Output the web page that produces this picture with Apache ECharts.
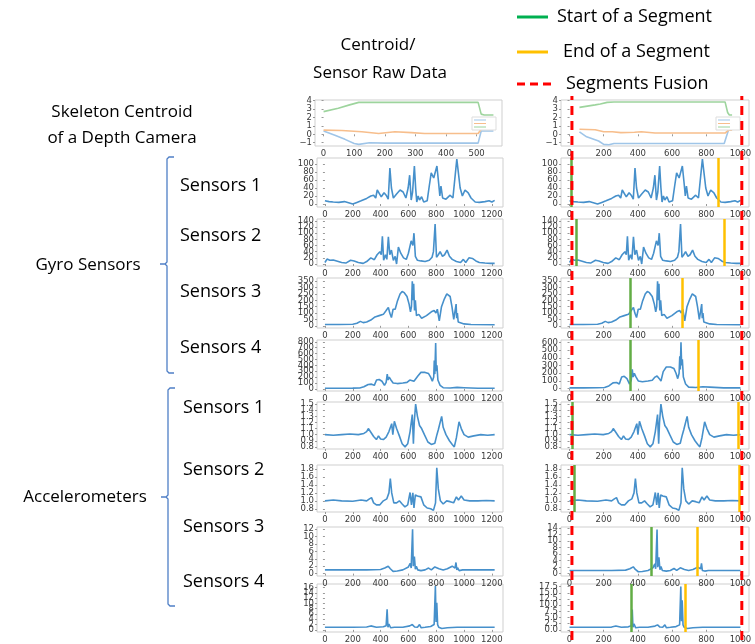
<!DOCTYPE html>
<html><head><meta charset="utf-8">
<script src="https://cdn.jsdelivr.net/npm/echarts@6/dist/echarts.min.js"></script>
<style>html,body{margin:0;padding:0;background:#fff}#c{width:755px;height:644px}</style>
</head><body><div id="c"></div>
<script>
// ================= DATA =================
// Skeleton centroid (left panel, frame index 0..555)
const centroidLeftBlue   = [[0,0.4],[37,-0.1],[70,-0.6],[100,-1.1],[115,-1.2],[150,-1.0],[200,-1.05],[300,-1.05],[400,-1.05],[505,-1.05],[515,0.4],[555,0.4]];
const centroidLeftOrange = [[0,0.5],[60,0.45],[125,0.3],[180,0.1],[233,0.3],[287,0.2],[330,0.1],[400,0.1],[505,0.1],[515,0.6],[555,0.6]];
const centroidLeftGreen  = [[0,2.7],[48,3.1],[85,3.5],[115,3.8],[200,3.8],[300,3.8],[400,3.8],[505,3.8],[515,2.4],[525,2.3],[555,2.3]];
// Skeleton centroid (right panel, resampled 0..1000)
const centroidRightBlue   = [[58,0.3],[100,-0.3],[170,-0.8],[200,-1.2],[230,-1.25],[260,-1.1],[500,-1.1],[905,-1.1],[930,0.5],[951,0.5]];
const centroidRightOrange = [[58,0.6],[150,0.55],[200,0.3],[210,0.5],[250,0.3],[300,0.2],[380,0.25],[420,0.3],[500,0.15],[910,0.15],[930,0.5],[951,0.5]];
const centroidRightGreen  = [[58,3.2],[150,3.5],[180,3.6],[220,3.8],[260,3.85],[600,3.85],[910,3.85],[925,2.6],[935,2.3],[951,2.3]];

// Gyro sensors (raw, frame index 0..1220)
const gyro1 = [[0,8],[30,6],[60,5],[100,4],[140,6],[170,3],[200,0],[230,4],[260,8],[300,14],[330,20],[350,22],[365,15],[376,35],[390,30],[405,18],[425,28],[440,22],[455,12],[467,90],[478,40],[492,15],[515,25],[540,35],[562,30],[582,15],[598,40],[609,72],[620,10],[630,30],[643,95],[652,40],[660,5],[670,20],[680,10],[695,18],[710,5],[735,8],[750,45],[764,78],[782,65],[793,62],[805,95],[818,50],[826,20],[834,45],[846,15],[870,12],[900,22],[920,15],[948,112],[972,40],[988,20],[1007,35],[1030,28],[1050,15],[1080,5],[1110,4],[1150,6],[1180,8],[1200,5],[1220,9]];
const gyro2 = [[0,5],[15,16],[35,12],[60,13],[90,9],[120,5],[150,3],[185,12],[210,10],[240,5],[275,2],[300,8],[330,20],[355,14],[375,30],[395,40],[405,30],[413,90],[422,12],[435,30],[445,15],[456,88],[466,30],[478,45],[492,12],[505,25],[515,0],[528,55],[545,35],[565,20],[585,15],[600,35],[620,75],[632,60],[640,100],[650,25],[665,12],[690,10],[720,8],[750,12],[770,22],[780,40],[792,130],[802,22],[815,30],[828,40],[845,25],[860,30],[878,45],[895,25],[915,15],[945,8],[975,5],[995,15],[1012,5],[1035,20],[1060,18],[1085,10],[1110,5],[1150,3],[1190,2],[1220,2]];
const gyro3 = [[0,10],[100,10],[200,12],[230,20],[255,35],[275,25],[300,30],[330,45],[360,70],[390,80],[420,90],[440,120],[456,145],[466,100],[478,65],[490,130],[505,130],[520,190],[540,250],[555,270],[570,260],[590,230],[605,170],[615,110],[622,150],[628,350],[634,200],[638,330],[644,120],[650,200],[658,80],[675,90],[695,60],[730,80],[765,110],[785,120],[798,100],[808,130],[822,38],[838,150],[858,210],[876,250],[887,265],[900,230],[913,150],[926,50],[943,170],[947,60],[952,100],[958,30],[972,40],[1000,15],[1050,10],[1220,8]];
const gyro4 = [[0,10],[100,10],[200,12],[250,15],[280,35],[311,75],[335,80],[355,60],[371,150],[390,160],[410,130],[428,60],[440,110],[448,250],[454,150],[462,200],[472,160],[490,100],[520,90],[560,100],[590,110],[610,150],[624,165],[640,130],[652,100],[668,220],[690,280],[700,300],[720,280],[745,260],[760,200],[772,130],[782,200],[786,480],[790,250],[796,780],[800,300],[805,400],[812,150],[828,60],[850,20],[900,15],[950,25],[1000,20],[1100,10],[1220,10]];
// Gyro sensor 4, right panel (resampled, spike lowered)
const gyro4Right = [[0,10],[82,10],[164,12],[205,15],[230,35],[254,75],[275,80],[291,60],[305,150],[320,160],[336,130],[351,60],[361,110],[367,250],[372,150],[379,200],[387,160],[402,100],[426,90],[459,100],[484,110],[500,150],[512,165],[525,130],[535,100],[548,220],[566,280],[574,300],[590,280],[611,260],[623,200],[633,130],[641,200],[645,420],[648,250],[652,600],[656,300],[660,380],[666,150],[679,60],[697,20],[738,15],[779,25],[820,20],[902,10],[1000,10]];

// Accelerometers (raw, frame index 0..1220)
const accel1 = [[0,1.0],[60,0.99],[120,1.0],[180,1.01],[240,1.0],[280,1.02],[300,1.05],[312,1.1],[330,1.04],[350,0.97],[370,0.92],[385,0.98],[400,0.93],[420,0.92],[440,0.96],[460,1.05],[472,1.08],[480,1.18],[488,1.0],[499,1.22],[515,1.1],[535,0.98],[555,0.85],[576,0.8],[595,0.85],[612,1.05],[628,1.33],[636,0.85],[642,1.2],[652,1.5],[665,1.3],[680,1.15],[695,1.1],[715,1.0],[740,0.88],[765,0.84],[790,0.86],[805,1.0],[815,1.08],[825,1.1],[839,1.3],[850,1.12],[870,1.0],[895,0.9],[915,0.84],[930,0.8],[945,0.95],[964,1.21],[980,1.1],[1000,1.0],[1030,0.96],[1070,0.98],[1120,1.0],[1170,0.99],[1220,1.0]];
const accel2 = [[0,1.0],[60,1.02],[120,1.0],[200,0.99],[260,1.02],[300,1.0],[320,1.05],[335,1.08],[350,0.95],[370,0.9],[395,0.9],[420,1.0],[445,1.05],[460,1.2],[470,1.56],[480,1.2],[495,0.95],[515,0.95],[535,1.0],[555,0.92],[575,0.85],[595,0.9],[612,1.21],[622,0.9],[632,1.2],[640,0.82],[650,1.15],[665,1.12],[690,1.1],[710,0.9],[735,0.82],[760,0.8],[780,0.76],[795,0.95],[804,1.83],[815,1.3],[830,1.0],[850,0.92],[875,1.0],[900,0.98],[925,0.95],[945,1.1],[960,1.02],[980,1.12],[1000,1.02],[1040,1.0],[1100,1.0],[1160,1.01],[1220,1.0]];
const accel3 = [[0,1.0],[100,1.0],[200,1.0],[300,1.0],[400,1.1],[430,1.5],[455,2.0],[470,1.3],[490,0.6],[520,0.7],[560,1.0],[600,1.8],[613,2.8],[620,1.5],[630,12],[635,2],[643,4.6],[650,1.2],[657,2],[667,1.0],[690,0.8],[720,1.0],[745,1.5],[765,1.0],[790,1.8],[800,2.0],[820,1.3],[850,1.0],[880,1.3],[915,2.0],[935,1.5],[942,3.0],[948,1.0],[953,1.6],[965,0.8],[990,1.0],[1100,1.0],[1220,1.0]];
const accel4 = [[0,1.0],[100,1.0],[200,1.0],[300,1.1],[330,1.5],[370,1.0],[420,1.2],[440,1.6],[447,7.8],[453,1.0],[460,2.2],[472,0.8],[500,1.0],[560,1.0],[610,1.5],[628,2.0],[645,1.1],[665,1.0],[680,2.0],[692,0.8],[720,1.0],[760,1.3],[785,2.0],[794,16.5],[799,3],[804,10.2],[810,2],[818,1.0],[840,0.5],[880,0.8],[950,1.0],[1100,1.0],[1220,1.0]];
const accel3Right = [[0,1.0],[82,1.0],[164,1.0],[246,1.0],[328,1.1],[353,1.5],[373,2.1],[385,1.3],[402,0.6],[426,0.7],[459,1.0],[488,1.8],[499,3.0],[504,1.5],[512,13.5],[516,2],[523,5.0],[529,1.2],[535,2.2],[543,1.0],[566,0.8],[590,1.0],[611,1.6],[627,1.0],[648,1.8],[656,2.0],[672,1.3],[697,1.0],[722,1.3],[750,2.0],[767,1.5],[772,3.2],[777,1.0],[781,1.6],[791,0.8],[812,1.0],[902,1.0],[1000,1.0]];
const accel4Right = [[0,1.0],[82,1.0],[164,1.0],[246,1.1],[271,1.5],[303,1.0],[344,1.2],[361,1.6],[367,8.2],[371,1.0],[377,2.4],[387,0.8],[410,1.0],[459,1.0],[500,1.5],[515,2.0],[529,1.1],[545,1.0],[558,2.0],[567,0.8],[590,1.0],[623,1.3],[644,2.0],[651,17.6],[655,3.5],[659,12],[664,2],[671,1.0],[689,0.5],[722,0.8],[779,1.0],[902,1.0],[1000,1.0]];

// resampling ratio of the segmented (right) column relative to raw frames
const rightXScale = 0.82;
// segment start / end positions (right column, rows 1..8)
const segStart = [null, 8, 38, 355, 358, 17, 29, 480, 360];
const segEnd   = [null, 870, 908, 658, 753, 990, 993, 750, 675];
// segment fusion boundaries
const fusionLines = [14, 1008];

// tick labels
const xTicksCentroidLeft = [0,100,200,300,400,500];
const xTicksLeft  = [0,200,400,600,800,1000,1200];
const xTicksRight = [0,200,400,600,800,1000];
const yTicksLeft = [
  [-1,0,1,2,3,4],[0,20,40,60,80,100],[0,20,40,60,80,100,120,140],[0,50,100,150,200,250,300,350],
  [0,100,200,300,400,500,600,700,800],[0.8,0.9,1.0,1.1,1.2,1.3,1.4,1.5],[0.8,1.0,1.2,1.4,1.6,1.8],
  [0,2,4,6,8,10,12],[0,2,4,6,8,10,12,14,16]];
const yTicksRight = [
  [-1,0,1,2,3,4],[0,20,40,60,80,100],[0,20,40,60,80,100,120,140],[0,50,100,150,200,250,300,350],
  [0,100,200,300,400,500,600],[0.8,0.9,1.0,1.1,1.2,1.3,1.4,1.5],[0.8,1.0,1.2,1.4,1.6,1.8],
  [0,2,4,6,8,10,12,14],[0,2.5,5,7.5,10,12.5,15,17.5]];
const yDecLeft  = [0,0,0,0,0,1,1,0,0];
const yDecRight = [0,0,0,0,0,1,1,0,1];

const rowLabelsGyro = ['Sensors 1','Sensors 2','Sensors 3','Sensors 4'];
const rowLabelsAcc  = ['Sensors 1','Sensors 2','Sensors 3','Sensors 4'];

// ================= LAYOUT / STYLE =================
const rowBoxes = [[100,146],[158,207],[219,266],[278,328],[340,391],[402,449],[465,512],[527,576],[584,632]];
const yRangeLeft  = [[-1.39,4.08],[-7.5,115],[-6.5,146],[-17,375],[-36,830],[0.765,1.535],[0.72,1.9],[-0.65,12.6],[-0.8,17.3]];
const yRangeRight = [[-1.39,4.08],[-7.5,115],[-6.5,146],[-17,375],[-30,630],[0.765,1.535],[0.72,1.9],[-0.7,14.3],[-0.9,18.6]];
const BLUE='#4690cb', CB='#9fc5e8', CO='#f7be8c', CG='#9dd49d';
const GREEN='#62ad45', YELLOW='#ffc000', RED='#ff0000';

const grids=[], xAxes=[], yAxes=[], series=[];
const tickFont = {fontSize:8.5, fontFamily:'DejaVu Sans', color:'#3a3a3a'};
function fmt(dec){ return v => (dec ? Number(v).toFixed(dec) : String(Math.round(v*100)/100)).replace('-', '\u2212'); }

function panel(col,row,lines,xr,xt,yr,yt,dec,marks){
  const gi = grids.length;
  const bx = col===0 ? (row===0 ? {x:315,w:187} : {x:317,w:186}) : {x:561,w:188};
  const [t,b] = rowBoxes[row];
  grids.push({left:bx.x, top:t, width:bx.w, height:b-t, show:true, borderColor:'#cfcfcf', borderWidth:1, backgroundColor:'transparent'});
  const xi = xAxes.length;
  xAxes.push({gridIndex:gi, type:'value', min:xr[0], max:xr[1], axisLine:{show:false}, splitLine:{show:false},
    axisTick:{show:true, customValues:xt, length:2, lineStyle:{color:'#999'}},
    axisLabel:Object.assign({customValues:xt, margin:3, showMinLabel:true, showMaxLabel:true, formatter: v=>String(v)}, tickFont)});
  // tick labels are spread over several co-located y axes so the library keeps all of them (matplotlib packs them tightly)
  const spacing = (b-t)*(yt[1]-yt[0])/(yr[1]-yr[0]);
  const k = Math.max(1, Math.ceil(11/spacing));
  const yi = yAxes.length;
  for(let j=0;j<k;j++){
    const vals = yt.filter((_,i)=>i%k===j);
    yAxes.push({gridIndex:gi, type:'value', position:'left', offset:0, min:yr[0], max:yr[1], axisLine:{show:false}, splitLine:{show:false},
      axisTick:{show:true, customValues:yt, length:2, lineStyle:{color:'#999'}},
      axisLabel:Object.assign({customValues:vals, margin:3, showMinLabel:true, showMaxLabel:true, formatter: fmt(dec)}, tickFont)});
  }
  lines.forEach((l,i)=>{
    const s = {type:'line', xAxisIndex:xi, yAxisIndex:yi, data:l.data, symbol:'none', showSymbol:false, silent:true,
      lineStyle:{color:l.color, width:1.6}, z:2};
    if(marks && i===lines.length-1){
      s.markLine = {symbol:['none','none'], silent:true, animation:false, label:{show:false},
        data:[{xAxis:marks[0], lineStyle:{color:GREEN, width:2.5, type:'solid'}},
              {xAxis:marks[1], lineStyle:{color:YELLOW, width:2.5, type:'solid'}}]};
    }
    series.push(s);
  });
}

const sc = d => d.map(([x,y]) => [x*rightXScale, y]);
// row 0 : centroid
panel(0,0,[{data:centroidLeftBlue,color:CB},{data:centroidLeftOrange,color:CO},{data:centroidLeftGreen,color:CG}],
  [-28,583], xTicksCentroidLeft, yRangeLeft[0], yTicksLeft[0], yDecLeft[0], null);
panel(1,0,[{data:centroidRightBlue,color:CB},{data:centroidRightOrange,color:CO},{data:centroidRightGreen,color:CG}],
  [-50,1050], xTicksRight, yRangeRight[0], yTicksRight[0], yDecRight[0], null);

const leftData  = [null, gyro1, gyro2, gyro3, gyro4, accel1, accel2, accel3, accel4];
const rightData = [null, sc(gyro1), sc(gyro2), sc(gyro3), gyro4Right, sc(accel1), sc(accel2), accel3Right, accel4Right];
for(let r=1;r<=8;r++){
  panel(0,r,[{data:leftData[r],color:BLUE}], [-57,1280], xTicksLeft, yRangeLeft[r], yTicksLeft[r], yDecLeft[r], null);
  panel(1,r,[{data:rightData[r],color:BLUE}], [-50,1050], xTicksRight, yRangeRight[r], yTicksRight[r], yDecRight[r], [segStart[r], segEnd[r]]);
}
// overlay for segment-fusion dashed lines across the right column
const og = grids.length;
grids.push({left:561, top:96, width:188, height:544, show:false});
const ox = xAxes.length, oy = yAxes.length;
xAxes.push({gridIndex:og, type:'value', min:-50, max:1050, show:false});
yAxes.push({gridIndex:og, type:'value', min:0, max:1, show:false});
fusionLines.forEach(x => series.push({type:'line', xAxisIndex:ox, yAxisIndex:oy, data:[[x,0],[x,1]], symbol:'none', silent:true, z:10,
  lineStyle:{color:RED, width:3, type:[9,6]}}));

// ================= TEXT / DECOR =================
const TF = 'Open Sans';
function txt(t,x,y,align,size){ return {type:'text', x:x, y:y, z:20, style:{text:t, fill:'#000', fontSize:size||18, fontFamily:TF, align:align||'left', verticalAlign:'middle'}}; }
const graphic = [
  // legend
  {type:'line', shape:{x1:517,y1:17,x2:548,y2:17}, style:{stroke:'#00b050', lineWidth:3}},
  txt('Start of a Segment',557,17),
  {type:'line', shape:{x1:517,y1:52,x2:548,y2:52}, style:{stroke:YELLOW, lineWidth:3}},
  txt('End of a Segment',563,52),
  {type:'line', shape:{x1:517,y1:84,x2:551,y2:84}, style:{stroke:RED, lineWidth:3, lineDash:[8,5]}},
  txt('Segments Fusion',566,84),
  // column header
  txt('Centroid/',378,45,'center',17),
  txt('Sensor Raw Data',380,73,'center',17),
  // left labels
  txt('Skeleton Centroid',122,112,'center',17),
  txt('of a Depth Camera',122,138,'center',17),
  txt('Gyro Sensors',88,265,'center',17),
  txt('Accelerometers',85,497,'center',17),
  // braces
  {type:'polyline', shape:{points:[[174,157],[169,157],[167,159],[167,262],[165,264],[160,264],[165,264],[167,266],[167,371],[169,373],[174,373]]}, style:{stroke:'#4f7fc6', lineWidth:1.3, fill:null}},
  {type:'polyline', shape:{points:[[175,388],[170,388],[168,390],[168,495],[166,497],[161,497],[166,497],[168,499],[168,604],[170,606],[175,606]]}, style:{stroke:'#4f7fc6', lineWidth:1.3, fill:null}},
  // mini legends inside centroid panels
  {type:'rect', shape:{x:472,y:117,width:24,height:13}, style:{stroke:'#ddd', fill:'#fff'}, z:5},
  {type:'line', shape:{x1:474,y1:120,x2:486,y2:120}, style:{stroke:CB, lineWidth:1}, z:6},
  {type:'line', shape:{x1:474,y1:123.5,x2:486,y2:123.5}, style:{stroke:CO, lineWidth:1}, z:6},
  {type:'line', shape:{x1:474,y1:127,x2:486,y2:127}, style:{stroke:CG, lineWidth:1}, z:6},
  {type:'rect', shape:{x:716,y:117,width:24,height:13}, style:{stroke:'#ddd', fill:'#fff'}, z:5},
  {type:'line', shape:{x1:718,y1:120,x2:730,y2:120}, style:{stroke:CB, lineWidth:1}, z:6},
  {type:'line', shape:{x1:718,y1:123.5,x2:730,y2:123.5}, style:{stroke:CO, lineWidth:1}, z:6},
  {type:'line', shape:{x1:718,y1:127,x2:730,y2:127}, style:{stroke:CG, lineWidth:1}, z:6}
];
const gyroY = [186,236,292,348], accY = [408,470,527,582];
rowLabelsGyro.forEach((t,i)=>graphic.push(txt(t,180,gyroY[i])));
rowLabelsAcc.forEach((t,i)=>graphic.push(txt(t,183,accY[i])));

const chart = echarts.init(document.getElementById('c'), null, {renderer:'canvas'});
chart.setOption({animation:false, backgroundColor:'#fff', grid:grids, xAxis:xAxes, yAxis:yAxes, series:series, graphic:graphic});
</script></body></html>
